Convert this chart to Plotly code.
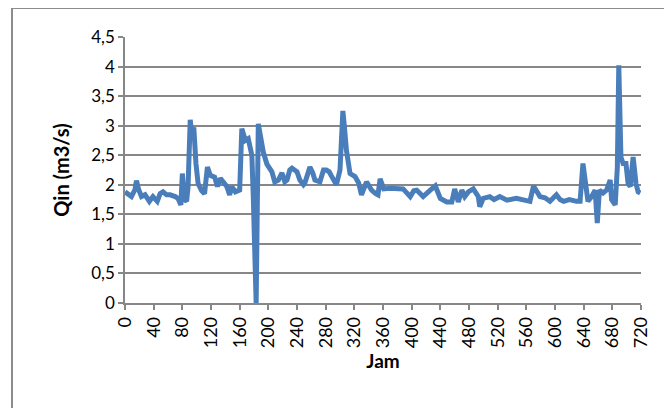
import plotly.graph_objects as go

hours = [0, 2, 9, 14, 16, 19, 23, 28, 34, 39, 45, 49, 53, 58, 63, 70, 74, 78, 80, 83,
         86, 88, 91, 93, 96, 99, 102, 107, 111, 115, 119, 125, 129, 133, 138, 142, 146, 149, 154, 160,
         163, 168, 172, 177, 179, 183, 186, 188, 190, 193, 198, 202, 205, 209, 214, 219, 223, 226, 230, 233,
         237, 240, 244, 249, 251, 258, 262, 265, 272, 277, 281, 285, 288, 292, 295, 300, 302, 304, 306, 309,
         314, 321, 326, 330, 337, 344, 350, 353, 356, 361, 370, 380, 388, 398, 403, 407, 416, 426, 433, 440,
         449, 456, 460, 465, 470, 474, 479, 486, 493, 495, 500, 509, 515, 523, 533, 546, 555, 565, 570, 574,
         579, 586, 593, 602, 607, 612, 620, 630, 635, 639, 642, 646, 651, 656, 659, 662, 667, 672, 677, 679,
         684, 687, 689, 692, 695, 699, 702, 705, 709, 713, 716, 719]
qin = [1.88, 1.86, 1.80, 1.92, 2.07, 1.92, 1.80, 1.83, 1.72, 1.80, 1.72, 1.85, 1.88, 1.83, 1.83, 1.80, 1.77, 1.66, 2.19, 1.75,
       1.72, 1.97, 3.10, 2.86, 2.97, 2.36, 2.02, 1.90, 1.85, 2.30, 2.16, 2.13, 1.97, 2.11, 2.02, 1.97, 1.83, 1.97, 1.88, 1.91,
       2.95, 2.75, 2.78, 2.50, 1.80, 0.00, 3.03, 2.90, 2.75, 2.55, 2.35, 2.27, 2.22, 2.05, 2.08, 2.20, 2.05, 2.08, 2.25, 2.28,
       2.25, 2.22, 2.08, 2.00, 2.03, 2.30, 2.20, 2.08, 2.05, 2.25, 2.25, 2.22, 2.15, 2.05, 2.00, 2.25, 2.60, 3.25, 3.00, 2.58,
       2.19, 2.14, 2.03, 1.83, 2.05, 1.91, 1.85, 1.83, 2.10, 1.93, 1.94, 1.94, 1.93, 1.80, 1.90, 1.91, 1.80, 1.91, 1.98, 1.77,
       1.71, 1.71, 1.93, 1.71, 1.91, 1.80, 1.88, 1.93, 1.80, 1.63, 1.77, 1.80, 1.75, 1.80, 1.74, 1.77, 1.74, 1.72, 1.98, 1.90,
       1.80, 1.78, 1.72, 1.83, 1.75, 1.72, 1.75, 1.72, 1.72, 2.36, 2.02, 1.72, 1.80, 1.91, 1.35, 1.91, 1.86, 1.91, 2.08, 1.75,
       1.66, 2.30, 4.02, 2.47, 2.36, 2.36, 2.02, 1.97, 2.47, 2.02, 1.88, 1.86]

x_ticks = list(range(0, 721, 40))
y_ticks = [0, 0.5, 1, 1.5, 2, 2.5, 3, 3.5, 4, 4.5]

FONT = "Lato, Open Sans, sans-serif"
GRID = "#878787"

# page has an 8px body margin; figure coordinates are offset accordingly
W, H = 664, 400
L, T, PW, PH = 117, 29, 516, 266

fig = go.Figure()
fig.add_trace(go.Scatter(
    x=hours, y=qin, mode="lines",
    line=dict(color="#4a7ebb", width=5, shape="linear"),
    showlegend=False, hoverinfo="skip",
))

fig.update_layout(
    width=W, height=H,
    margin=dict(l=L, r=W - L - PW, t=T, b=H - T - PH),
    paper_bgcolor="white", plot_bgcolor="white",
    separators=",.",
    font=dict(family=FONT, size=17, color="black"),
    xaxis=dict(
        range=[0, 720], tickmode="array", tickvals=x_ticks,
        ticktext=[str(v) for v in x_ticks], tickangle=-90,
        showgrid=False, zeroline=False,
        showline=True, linecolor=GRID, linewidth=1.5,
        ticks="outside", ticklen=5, tickcolor=GRID, tickwidth=1.5,
        tickfont=dict(size=18, family=FONT),
        title=dict(text="<b>Jam</b>", font=dict(size=19, family=FONT), standoff=7),
    ),
    yaxis=dict(
        range=[0, 4.5], tickmode="array", tickvals=y_ticks,
        ticktext=[("%g" % v).replace(".", ",") for v in y_ticks],
        showgrid=True, gridcolor=GRID, gridwidth=1.5, zeroline=False,
        showline=True, linecolor=GRID, linewidth=1.5,
        ticks="outside", ticklen=5, tickcolor=GRID, tickwidth=1.5,
        tickfont=dict(size=17, family=FONT),
        title=dict(text="<b>Qin (m3/s)</b>", font=dict(size=20, family=FONT), standoff=16),
    ),
    shapes=[dict(type="rect", xref="paper", yref="paper",
                 x0=(4 - L) / PW, x1=(660 - L) / PW,
                 y0=-(H + 40 - T - PH) / PH, y1=(T + PH) / PH,
                 line=dict(color="#8c8c8c", width=2), layer="below")],
)

fig.write_html("out.html")
